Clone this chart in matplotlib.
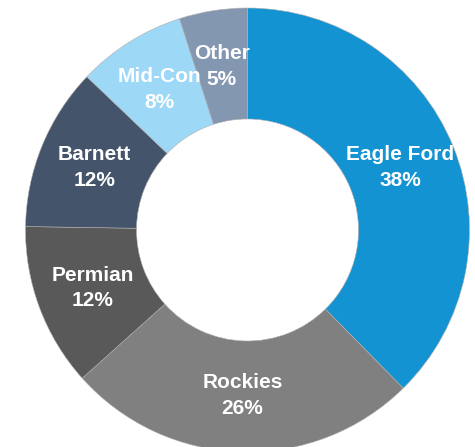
import matplotlib.pyplot as plt

# Доли по регионам
regions = ['Eagle Ford', 'Rockies', 'Permian', 'Barnett', 'Mid-Con', 'Other']
shares = [38, 26, 12, 12, 8, 5]
colors = ['#1493D3', '#808080', '#595959', '#44546A', '#9DD8F6', '#8497B0']

fig = plt.figure(figsize=(4.75, 4.47), dpi=100)
# Квадратная область под кольцо: радиус 1 = 222 px
ax = fig.add_axes([25.5 / 475, -5 / 447, 444 / 475, 444 / 447])

labels = [f'{r}\n{s}%' for r, s in zip(regions, shares)]
wedges, texts = ax.pie(
    shares, colors=colors, labels=labels, startangle=90, counterclock=False,
    radius=1, labeldistance=0.745,
    wedgeprops=dict(width=0.5, edgecolor='#b0b0b0', linewidth=0.4),
    textprops=dict(color='white', fontsize=15, fontweight='bold',
                   family='Liberation Sans', ha='center', va='center',
                   linespacing=1.45),
)
for t in texts:
    t.set_horizontalalignment('center')

ax.set_xlim(-1, 1)
ax.set_ylim(-1, 1)
ax.axis('off')

plt.savefig('out.png', dpi=100)
